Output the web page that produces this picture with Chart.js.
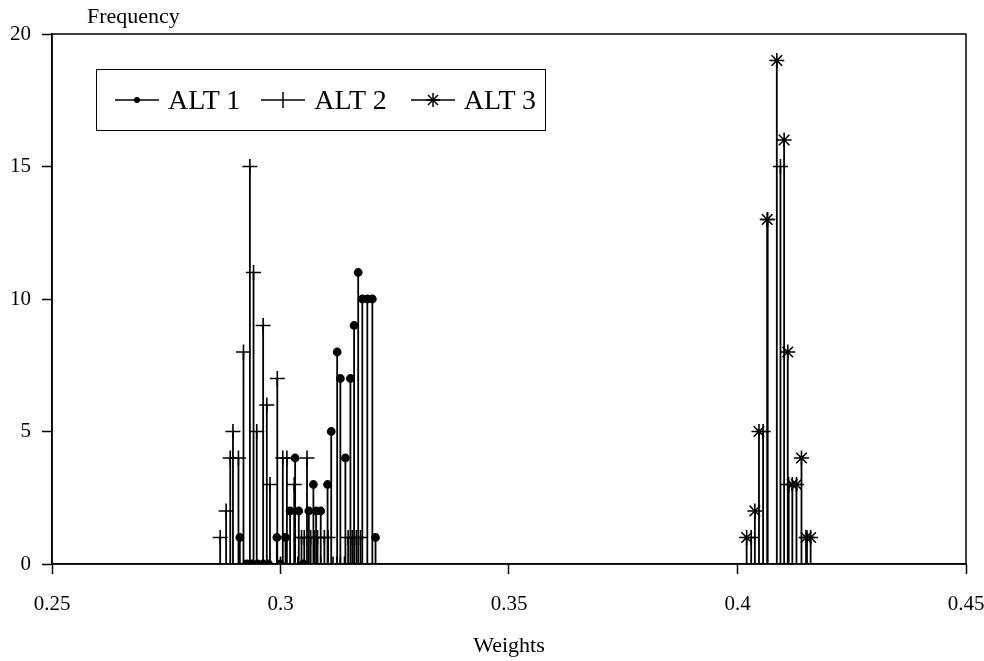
<!DOCTYPE html>
<html>
<head>
<meta charset="utf-8">
<script src="https://cdn.jsdelivr.net/npm/chart.js@4"></script>
<style>
    body { margin: 0; background: #fff; }
    #wrap { position: relative; width: 984px; height: 661px; font-family: 'Liberation Serif', 'DejaVu Serif', serif; color: #000; }
    #yTitle { position: absolute; left: 87px; top: 3px; font-size: 22px; }
    #legend { position: absolute; left: 96px; top: 69px; width: 448px; height: 60px; border: 1.5px solid #000; display: flex; align-items: center; font-size: 28px; }
    #legend .item { display: flex; align-items: center; }
    #legend .item span { margin-left: 9px; }
    #legend .item:nth-child(1) { margin-left: 18px; }
    #legend .item:nth-child(2) { margin-left: 21px; }
    #legend .item:nth-child(3) { margin-left: 24px; }
</style>
</head>
<body>
<div id="wrap">
    <canvas id="weightsChart" width="984" height="661"></canvas>
    <div id="yTitle">Frequency</div>
    <div id="legend"></div>
</div>
<script>
// Series names and marker styles
const seriesNames = ['ALT 1', 'ALT 2', 'ALT 3'];
const seriesMarkers = ['circle', 'cross', 'star'];

// ALT 1 (dots)
const alt1Weights = [0.2911, 0.2926, 0.2938, 0.2950, 0.2962, 0.2974, 0.2992, 0.3000, 0.3011, 0.3021,
    0.3032, 0.3040, 0.3050, 0.3062, 0.3072, 0.3078, 0.3088, 0.3103, 0.3111, 0.3124,
    0.3131, 0.3142, 0.3153, 0.3161, 0.3170, 0.3179, 0.3190, 0.3201, 0.3208];
const alt1Freq = [1, 0, 0, 0, 0, 0, 1, 0, 1, 2,
    4, 2, 0, 2, 3, 2, 2, 3, 5, 8,
    7, 4, 7, 9, 11, 10, 10, 10, 1];

// ALT 2 (plus)
const alt2Weights = [0.2868, 0.2881, 0.2890, 0.2896, 0.2908, 0.2919, 0.2933, 0.2941, 0.2948, 0.2962,
    0.2970, 0.2977, 0.2993, 0.3000, 0.3005, 0.3014, 0.3030, 0.3038, 0.3046, 0.3052,
    0.3058, 0.3066, 0.3074, 0.3081, 0.3088, 0.3096, 0.3104, 0.3115, 0.3123, 0.3131,
    0.3140, 0.3148, 0.3157, 0.3166, 0.3175,
    0.4030, 0.4056, 0.4066, 0.4094, 0.4112, 0.4152];
const alt2Freq = [1, 2, 4, 5, 4, 8, 15, 11, 5, 9,
    6, 3, 7, 0, 4, 4, 3, 0, 1, 1,
    4, 1, 1, 1, 0, 1, 1, 0, 0, 0,
    0, 1, 1, 1, 1,
    1, 5, 13, 15, 3, 1];

// ALT 3 (asterisk)
const alt3Weights = [0.4020, 0.4038, 0.4047, 0.4065, 0.4086, 0.4102, 0.4110, 0.4120, 0.4129, 0.4140, 0.4150, 0.4160];
const alt3Freq = [1, 2, 5, 13, 19, 16, 8, 3, 3, 4, 1, 1];

// Axis ticks
const xTicks = [0.25, 0.3, 0.35, 0.4, 0.45];
const yTicks = [0, 5, 10, 15, 20];

const FONT = "'Liberation Serif', 'DejaVu Serif', serif";

// Each value is drawn as a stem: baseline -> value -> baseline
function stemPoints(weights, freqs) {
    const pts = [];
    weights.forEach((w, i) => {
        pts.push({ x: w, y: 0 });
        pts.push({ x: w, y: freqs[i] });
        pts.push({ x: w, y: 0 });
    });
    return pts;
}

function makeDataset(idx, weights, freqs, radius) {
    return {
        label: seriesNames[idx],
        data: stemPoints(weights, freqs),
        borderColor: '#000',
        borderWidth: 1.8,
        pointStyle: seriesMarkers[idx],
        pointRadius: ctx => (ctx.dataIndex % 3 === 1 ? radius : 0),
        pointHoverRadius: 0,
        pointBackgroundColor: '#000',
        pointBorderColor: '#000',
        pointBorderWidth: 1.6,
        tension: 0
    };
}

// Frame round the plot area
const framePlugin = {
    id: 'frame',
    afterDraw(chart) {
        const a = chart.chartArea;
        const c = chart.ctx;
        c.save();
        c.strokeStyle = '#000';
        c.lineWidth = 1.5;
        c.strokeRect(a.left, a.top, a.right - a.left, a.bottom - a.top);
        c.restore();
    }
};

new Chart(document.getElementById('weightsChart'), {
    type: 'line',
    data: {
        datasets: [
            makeDataset(0, alt1Weights, alt1Freq, 3.6),
            makeDataset(1, alt2Weights, alt2Freq, 7.5),
            makeDataset(2, alt3Weights, alt3Freq, 7.5)
        ]
    },
    options: {
        responsive: false,
        animation: false,
        layout: { padding: { top: 34, right: 18, left: 0, bottom: 0 } },
        plugins: {
            legend: { display: false },
            tooltip: { enabled: false }
        },
        scales: {
            x: {
                type: 'linear',
                min: 0.25,
                max: 0.45,
                afterBuildTicks: scale => { scale.ticks = xTicks.map(v => ({ value: v })); },
                afterFit: scale => {
                    scale.height = 97;
                    scale.paddingLeft = 0;
                    scale.paddingRight = 0;
                },
                ticks: {
                    callback: v => String(v),
                    color: '#000',
                    font: { family: FONT, size: 21 },
                    padding: 18,
                    maxRotation: 0,
                    autoSkip: false
                },
                grid: { drawOnChartArea: false, tickLength: 10, color: '#000', tickWidth: 1.5 },
                border: { display: true, color: '#000', width: 1.5 },
                title: {
                    display: true,
                    text: 'Weights',
                    color: '#000',
                    font: { family: FONT, size: 22 },
                    padding: { top: 0, bottom: 2 }
                }
            },
            y: {
                min: 0,
                max: 20,
                afterBuildTicks: scale => { scale.ticks = yTicks.map(v => ({ value: v })); },
                afterFit: scale => {
                    scale.width = 52;
                    scale.paddingTop = 0;
                    scale.paddingBottom = 0;
                },
                ticks: {
                    color: '#000',
                    font: { family: FONT, size: 21 },
                    padding: 11
                },
                grid: { drawOnChartArea: false, tickLength: 10, color: '#000', tickWidth: 1.5 },
                border: { display: true, color: '#000', width: 1.5 }
            }
        }
    },
    plugins: [framePlugin]
});

// HTML legend: line with marker, then the series name
function symbolSvg(style) {
    let mark = '';
    if (style === 'circle') mark = '<circle cx="22" cy="10" r="3" fill="#000"/>';
    if (style === 'cross') mark = '<line x1="22" y1="2" x2="22" y2="18" stroke="#000" stroke-width="1.5"/>';
    if (style === 'star') {
        mark = '<line x1="22" y1="3" x2="22" y2="17" stroke="#000" stroke-width="1.5"/>' +
            '<line x1="17" y1="5" x2="27" y2="15" stroke="#000" stroke-width="1.5"/>' +
            '<line x1="27" y1="5" x2="17" y2="15" stroke="#000" stroke-width="1.5"/>' +
            '<line x1="15" y1="10" x2="29" y2="10" stroke="#000" stroke-width="1.5"/>';
    }
    return '<svg width="44" height="20"><line x1="0" y1="10" x2="44" y2="10" stroke="#000" stroke-width="1.5"/>' + mark + '</svg>';
}

const legendEl = document.getElementById('legend');
seriesNames.forEach((name, i) => {
    const item = document.createElement('div');
    item.className = 'item';
    item.innerHTML = symbolSvg(seriesMarkers[i]) + '<span>' + name + '</span>';
    legendEl.appendChild(item);
});
</script>
</body>
</html>
